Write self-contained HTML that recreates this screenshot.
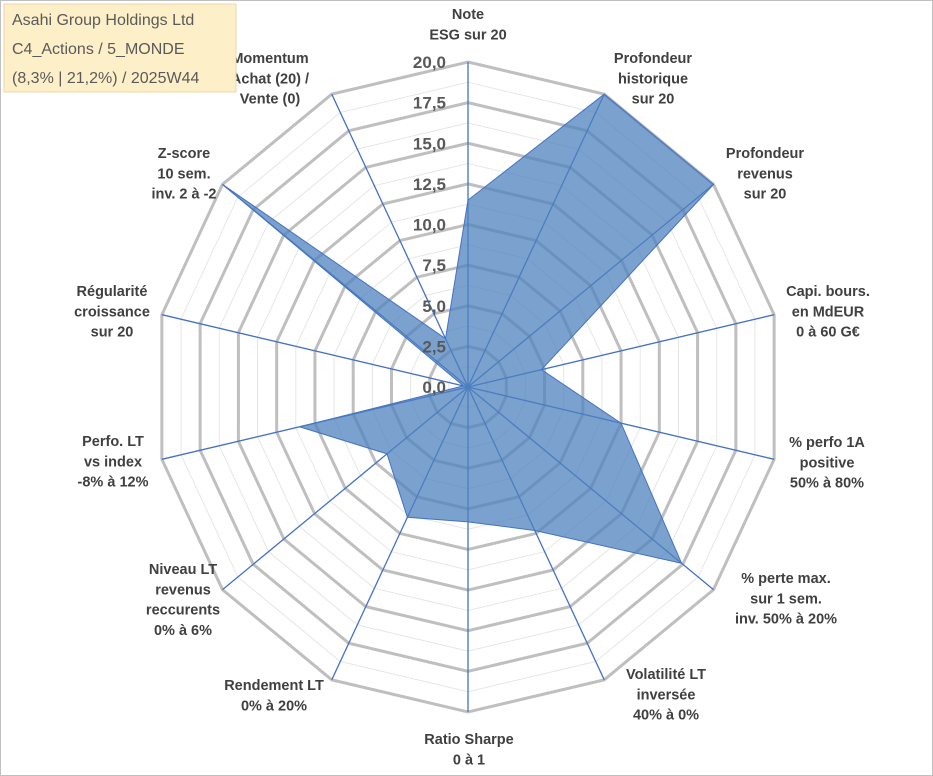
<!DOCTYPE html>
<html><head><meta charset="utf-8"><style>
html,body{margin:0;padding:0;background:#fff}
svg{display:block}
text{font-family:"Liberation Sans",sans-serif}
</style></head><body>
<svg id="chart" width="933" height="776" viewBox="0 0 933 776">
<rect x="0.5" y="0.5" width="932" height="775" fill="#fff" stroke="#bfbfbf"/>
<g id="grid"></g>
<g id="axes"></g>
<g id="series"></g>
<g id="ticks"></g>
<g id="labels"></g>
<g>
<rect x="4" y="4" width="232" height="88" fill="#fdefc8" stroke="#e8d9a8"/>
<text x="12" y="25" font-size="16" fill="#5a5a5a">Asahi Group Holdings Ltd</text>
<text x="12" y="54" font-size="16" fill="#5a5a5a">C4_Actions / 5_MONDE</text>
<text x="12" y="83" font-size="16" fill="#5a5a5a">(8,3% | 21,2%) / 2025W44</text>
</g>
</svg>
<script>
const categories = [
 ["Note","ESG sur 20"],
 ["Profondeur","historique","sur 20"],
 ["Profondeur","revenus","sur 20"],
 ["Capi. bours.","en MdEUR","0 à 60 G€"],
 ["% perfo 1A","positive","50% à 80%"],
 ["% perte max.","sur 1 sem.","inv. 50% à 20%"],
 ["Volatilité LT","inversée","40% à 0%"],
 ["Ratio Sharpe","0 à 1"],
 ["Rendement LT","0% à 20%"],
 ["Niveau LT","revenus","reccurents","0% à 6%"],
 ["Perfo. LT","vs index","-8% à 12%"],
 ["Régularité","croissance","sur 20"],
 ["Z-score","10 sem.","inv. 2 à -2"],
 ["Momentum","Achat (20) /","Vente (0)"]
];
const values = [11.5, 20, 20, 4.8, 10.0, 17.4, 9.8, 8.3, 8.9, 6.6, 11.0, 0.3, 20, 3.3];
const tickLabels = ["0,0","2,5","5,0","7,5","10,0","12,5","15,0","17,5","20,0"];
const labelPos = [[468,14],[653,58],[765,153],[828,291],[827,442],[786,578],[666,674],[469,739],[274,685],[183,569],[113,441],[112,291],[184,153],[270,58]];
const NS="http://www.w3.org/2000/svg";
const cx=468, cy=387, RX=314, RY=325, maxV=20, N=categories.length;
function ang(i){return i*2*Math.PI/N;}
function pt(i,v){const f=v/maxV;return [cx+f*RX*Math.sin(ang(i)), cy-f*RY*Math.cos(ang(i))];}
function mk(tag,attrs,parent){const e=document.createElementNS(NS,tag);for(const k in attrs)e.setAttribute(k,attrs[k]);parent.appendChild(e);return e;}
const grid=document.getElementById('grid');
for(let k=1;k<=16;k++){
 const v=k*1.25;
 const pts=[];for(let i=0;i<N;i++)pts.push(pt(i,v).join(','));
 const major=k%2===0;
 const p=mk('polygon',{points:pts.join(' '),fill:'none',stroke:major?'#bfbfbf':'#e6e6e6','stroke-width':major?3:1},grid);
 
 
}
const axes=document.getElementById('axes');
for(let i=0;i<N;i++){
 const e=pt(i,maxV);
 const l=mk('line',{x1:cx,y1:cy,x2:e[0],y2:e[1],stroke:'#4472c4','stroke-width':1.3},axes);
 
 
}
const series=document.getElementById('series');
const sp=values.map((v,i)=>pt(i,v).join(',')).join(' ');
const poly=mk('polygon',{points:sp,fill:'#4f81bd','fill-opacity':0.75,stroke:'#4472c4','stroke-width':1},series);


const ticks=document.getElementById('ticks');
tickLabels.forEach((t,k)=>{
 const y=cy-k*2.5/maxV*RY;
 const tx=mk('text',{x:446,y:y+6,'text-anchor':'end','font-size':17,'font-weight':'bold',fill:'#595959'},ticks);
 tx.textContent=t;
 
 
});
const labels=document.getElementById('labels');
categories.forEach((lines,i)=>{
 const g=mk('text',{'text-anchor':'middle','font-size':14.5,'font-weight':'bold',fill:'#404040'},labels);
 
 
 lines.forEach((s,j)=>{
  const ts=mk('tspan',{x:labelPos[i][0],y:labelPos[i][1]+5+j*20.3},g);
  ts.textContent=s;
 });
});
</script>
</body></html>
